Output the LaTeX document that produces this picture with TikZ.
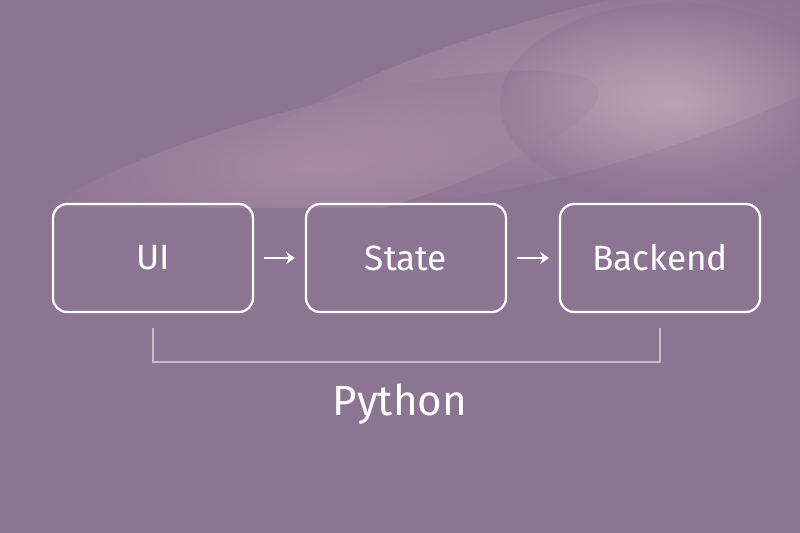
\documentclass[tikz,border=0pt]{standalone}
\usepackage{fontspec}
\setmainfont{Fira Sans}
\usetikzlibrary{positioning}
\usetikzlibrary{arrows.meta}
\definecolor{bgpurple}{HTML}{8C7493}
\definecolor{glow}{HTML}{E3BFC4}
\definecolor{bracketgray}{HTML}{C9BCCB}
\tikzset{
	box/.style={draw=white,line width=1.3pt,rounded corners=8pt,minimum width=4.0cm,minimum height=2.16cm,text=white,font=\fontsize{20}{24}\selectfont},
	flow/.style={->,>={Stealth[length=5pt,width=7pt]},white,line width=1.3pt,shorten <=0.2cm,shorten >=0.2cm}
}
\begin{document}
\begin{tikzpicture}
	\fill[bgpurple] (0,0) rectangle (16,10.66);
	\useasboundingbox (0,0) rectangle (16,10.66);
	% soft clouds
	\begin{scope}[rotate around={15:(11,8.6)}]
	 \shade[inner color=glow,outer color=bgpurple,opacity=0.35] (11.5,8.7) ellipse (7cm and 1.6cm);
	 \shade[inner color=glow,outer color=bgpurple,opacity=0.3] (6,8.6) ellipse (6cm and 1.2cm);
	\end{scope}
	\shade[inner color=glow!60!white,outer color=bgpurple,opacity=0.35] (13.5,8.6) ellipse (3.5cm and 2cm);
	\fill[bgpurple] (0,0) rectangle (16,6.5);
	
	% boxes
	\node[box] (ui) at (3.06,5.5) {UI};
	\node[box] (state) at (8.12,5.5) {State};
	\node[box] (backend) at (13.2,5.5) {Backend};
	
	% arrows
	\draw[flow] (ui) -- (state);
	\draw[flow] (state) -- (backend);
	
	% bracket
	\coordinate (bl) at (3.06,3.42);
	\coordinate (br) at (13.2,3.42);
	\draw[bracketgray,line width=1.5pt] ([yshift=-0.3cm]ui.south) -- (bl) -- (br) -- ([yshift=-0.3cm]backend.south);
	\node[text=white,font=\fontsize{24}{28}\selectfont] (python) at (8.0,2.58) {Python};
\end{tikzpicture}
\end{document}
